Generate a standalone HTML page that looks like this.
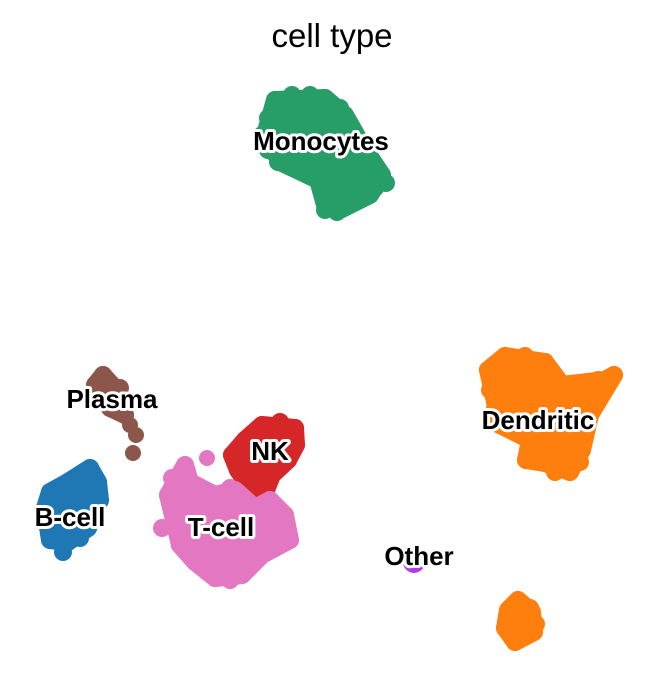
<!DOCTYPE html>
<html><head><meta charset="utf-8"><style>
html,body{margin:0;padding:0;background:#fff;}
svg{display:block}
.l{font-family:"Liberation Sans",sans-serif;font-weight:bold;font-size:26px;fill:#000;stroke:#fff;stroke-width:6px;paint-order:stroke;stroke-linejoin:round}
.u{stroke-width:18;stroke-linejoin:round}
</style></head><body>
<svg width="664" height="692" viewBox="0 0 664 692">
<text x="332" y="47" text-anchor="middle" font-family="Liberation Sans,sans-serif" font-size="33" fill="#000">cell type</text>
<!-- Monocytes -->
<g fill="#279e68">
<polygon class="u" stroke="#279e68" points="275,100 325,98 345,115 362,145 382,175 370,195 340,210 325,205 318,180 280,162 265,135"/>
<circle cx="275" cy="100" r="9"/><circle cx="292" cy="95" r="9"/><circle cx="310" cy="95" r="9"/><circle cx="325" cy="98" r="9"/><circle cx="340" cy="108" r="9"/>
<circle cx="268" cy="118" r="9"/><circle cx="350" cy="125" r="9"/>
<circle cx="262" cy="135" r="9"/><circle cx="362" cy="145" r="9"/>
<circle cx="268" cy="150" r="9"/><circle cx="370" cy="160" r="9"/><circle cx="382" cy="175" r="9"/><circle cx="386" cy="183" r="9"/>
<circle cx="278" cy="162" r="9"/><circle cx="295" cy="165" r="9"/><circle cx="312" cy="170" r="9"/><circle cx="375" cy="188" r="9"/>
<circle cx="320" cy="182" r="9"/><circle cx="366" cy="195" r="9"/><circle cx="328" cy="198" r="9"/><circle cx="345" cy="202" r="9"/><circle cx="358" cy="200" r="9"/><circle cx="325" cy="210" r="9"/><circle cx="337" cy="212" r="9"/>
</g>
<!-- Dendritic -->
<g fill="#ff7f0e">
<polygon class="u" stroke="#ff7f0e" points="505,356 545,362 562,385 605,380 614,375 590,415 582,450 570,472 545,463 526,460 530,440 500,425 488,370"/>
<circle cx="505" cy="356" r="9"/><circle cx="525" cy="356" r="9"/><circle cx="545" cy="362" r="9"/><circle cx="488" cy="370" r="9"/><circle cx="562" cy="385" r="9"/><circle cx="580" cy="385" r="9"/><circle cx="598" cy="380" r="9"/><circle cx="614" cy="375" r="9"/><circle cx="605" cy="390" r="9"/>
<circle cx="490" cy="390" r="9"/><circle cx="583" cy="400" r="9"/>
<circle cx="495" cy="408" r="9"/><circle cx="590" cy="415" r="9"/>
<circle cx="500" cy="425" r="9"/><circle cx="578" cy="432" r="9"/>
<circle cx="530" cy="445" r="9"/><circle cx="582" cy="450" r="9"/><circle cx="526" cy="460" r="9"/><circle cx="545" cy="463" r="9"/><circle cx="563" cy="465" r="9"/><circle cx="580" cy="462" r="9"/><circle cx="555" cy="472" r="9"/><circle cx="570" cy="472" r="9"/>
<polygon class="u" stroke="#ff7f0e" points="518,600 532,612 534,632 515,642 505,628 508,610"/>
<circle cx="518" cy="600" r="9"/><circle cx="530" cy="608" r="9"/><circle cx="508" cy="612" r="9"/><circle cx="536" cy="624" r="9"/><circle cx="505" cy="628" r="9"/><circle cx="534" cy="632" r="9"/><circle cx="515" cy="642" r="9"/>
</g>
<!-- Other -->
<circle cx="414" cy="562" r="11" fill="#b23de8"/>
<!-- Plasma -->
<g fill="#8c564b">
<polygon class="u" stroke="#8c564b" points="103,375 112,385 118,398 125,415 110,408 95,385"/>
<circle cx="103" cy="375" r="9"/><circle cx="95" cy="385" r="9"/><circle cx="112" cy="385" r="9"/><circle cx="120" cy="388" r="9"/><circle cx="100" cy="397" r="9"/><circle cx="118" cy="398" r="9"/><circle cx="110" cy="408" r="9"/><circle cx="125" cy="415" r="9"/><circle cx="130" cy="425" r="8"/><circle cx="136" cy="435" r="8"/><circle cx="133" cy="453" r="8"/>
</g>
<!-- B-cell -->
<g fill="#1f77b4">
<polygon class="u" stroke="#1f77b4" points="90,468 98,482 100,500 88,528 68,542 50,540 45,508 50,492 68,482"/>
<circle cx="90" cy="468" r="9"/><circle cx="98" cy="482" r="9"/><circle cx="68" cy="482" r="9"/><circle cx="50" cy="492" r="9"/><circle cx="100" cy="500" r="9"/>
<circle cx="45" cy="508" r="9"/><circle cx="48" cy="525" r="9"/><circle cx="88" cy="528" r="9"/>
<circle cx="50" cy="540" r="9"/><circle cx="68" cy="542" r="9"/><circle cx="63" cy="552" r="9"/><circle cx="80" cy="538" r="9"/>
</g>
<!-- NK -->
<g fill="#d62728">
<polygon class="u" stroke="#d62728" points="262,425 295,428 296,445 288,460 272,475 266,490 250,488 238,470 232,455 245,440"/>
<circle cx="262" cy="425" r="9"/><circle cx="280" cy="422" r="9"/><circle cx="295" cy="428" r="9"/><circle cx="245" cy="440" r="9"/><circle cx="296" cy="445" r="9"/>
<circle cx="232" cy="455" r="9"/><circle cx="288" cy="460" r="9"/><circle cx="238" cy="470" r="9"/><circle cx="272" cy="475" r="9"/>
<circle cx="250" cy="488" r="9"/><circle cx="266" cy="490" r="9"/><circle cx="260" cy="498" r="8"/>
</g>
<!-- T-cell -->
<g fill="#e377c2">
<polygon class="u" stroke="#e377c2" points="185,465 190,482 215,495 235,490 255,508 270,500 285,515 290,540 262,555 242,575 215,578 195,562 180,545 168,495"/>
<circle cx="207" cy="458" r="8"/><circle cx="185" cy="465" r="9"/><circle cx="172" cy="478" r="9"/><circle cx="190" cy="482" r="9"/><circle cx="168" cy="495" r="9"/><circle cx="230" cy="488" r="9"/><circle cx="215" cy="495" r="9"/>
<circle cx="178" cy="508" r="9"/><circle cx="270" cy="500" r="9"/><circle cx="285" cy="515" r="9"/>
<circle cx="162" cy="528" r="9"/><circle cx="280" cy="532" r="9"/><circle cx="290" cy="540" r="9"/>
<circle cx="180" cy="545" r="9"/><circle cx="275" cy="545" r="9"/>
<circle cx="195" cy="562" r="9"/><circle cx="212" cy="565" r="9"/><circle cx="248" cy="562" r="9"/><circle cx="262" cy="555" r="9"/>
<circle cx="215" cy="578" r="9"/><circle cx="230" cy="580" r="9"/><circle cx="242" cy="575" r="9"/>
</g>
<text class="l" x="321" y="150" text-anchor="middle">Monocytes</text>
<text class="l" x="538" y="429" text-anchor="middle">Dendritic</text>
<text class="l" x="112" y="408" text-anchor="middle">Plasma</text>
<text class="l" x="270" y="460" text-anchor="middle">NK</text>
<text class="l" x="70" y="526" text-anchor="middle">B-cell</text>
<text class="l" x="221" y="536" text-anchor="middle">T-cell</text>
<text class="l" x="419" y="565" text-anchor="middle">Other</text>
</svg>
</body></html>
